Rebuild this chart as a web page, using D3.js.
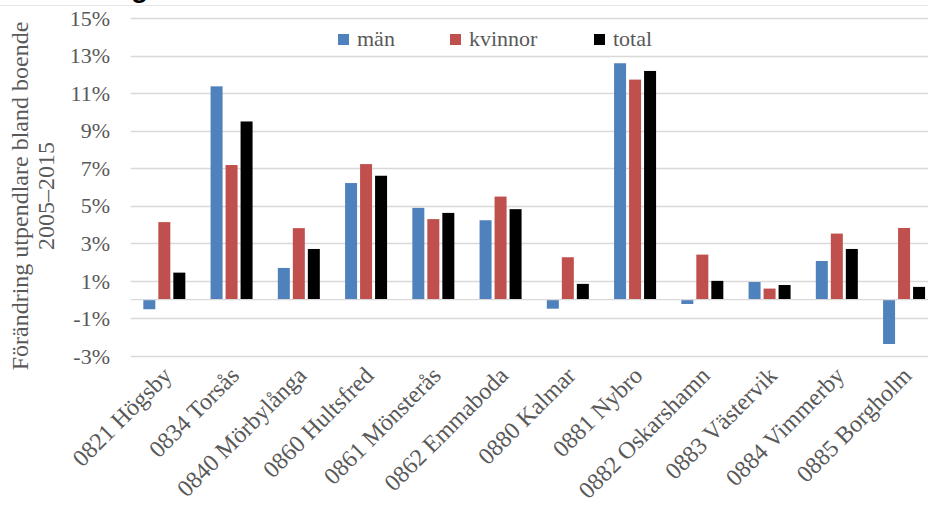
<!DOCTYPE html>
<html>
<head>
<meta charset="utf-8">
<script src="https://cdn.jsdelivr.net/npm/d3@7"></script>
<style>
  html, body { margin: 0; padding: 0; background: #fff; }
  svg { display: block; }
</style>
</head>
<body>
<svg id="chart" width="928" height="505"></svg>
<script>
const categories = ["0821 Högsby", "0834 Torsås", "0840 Mörbylånga", "0860 Hultsfred", "0861 Mönsterås", "0862 Emmaboda", "0880 Kalmar", "0881 Nybro", "0882 Oskarshamn", "0883 Västervik", "0884 Vimmerby", "0885 Borgholm"];
const seriesNames = ["män", "kvinnor", "total"];
const man     = [-0.51, 11.36, 1.69, 6.21, 4.89, 4.23, -0.48, 12.59, -0.23, 0.94, 2.06, -2.36];
const kvinnor = [4.13, 7.17, 3.81, 7.22, 4.29, 5.49, 2.26, 11.72, 2.40, 0.59, 3.52, 3.82];
const total   = [1.44, 9.49, 2.70, 6.60, 4.62, 4.82, 0.84, 12.18, 1.00, 0.78, 2.70, 0.68];
const yTicks = [-3, -1, 1, 3, 5, 7, 9, 11, 13, 15];
const colors = ["#4F81BD", "#C0504D", "#000000"];
const yTitle = ["Förändring utpendlare bland boende", "2005–2015"];

const values = [man, kvinnor, total];
const svg = d3.select("#chart");
const font = "'Liberation Serif', 'Times New Roman', serif";
const textColor = "#595959";
const gridColor = "#D9D9D9";

// top border line and cut-off title fragment
svg.append("line").attr("x1", 0).attr("x2", 928).attr("y1", 5.5).attr("y2", 5.5)
  .attr("stroke", "#E8E8E8").attr("stroke-width", 1);
svg.append("text").attr("x", 131).attr("y", -3).text("g")
  .attr("font-family", "'Liberation Sans', Arial, sans-serif").attr("font-weight", "bold")
  .attr("font-size", 28).attr("fill", "#000");

const plotLeft = 130.7, plotRight = 937.7;
const y = d3.scaleLinear().domain([-3, 15]).range([356, 18]);
const x0 = d3.scaleBand().domain(categories).range([plotLeft, plotRight]).padding(0);
const x1 = d3.scaleBand().domain(seriesNames).range([0, 42]).paddingInner(0.2).paddingOuter(0);

// gridlines
svg.append("g").selectAll("line").data(yTicks).join("line")
  .attr("x1", plotLeft).attr("x2", 928)
  .attr("y1", d => Math.round(y(d)) + 0.5).attr("y2", d => Math.round(y(d)) + 0.5)
  .attr("stroke", gridColor).attr("stroke-width", 1.3);

// y tick labels
svg.append("g").selectAll("text").data(yTicks).join("text")
  .attr("x", 110).attr("y", d => y(d)).attr("dy", "0.35em")
  .attr("text-anchor", "end")
  .attr("font-family", font).attr("font-size", 22).attr("fill", textColor)
  .text(d => d + "%");

// bars
const groups = svg.append("g").selectAll("g").data(categories).join("g")
  .attr("transform", c => `translate(${x0(c) + x0.bandwidth() / 2 - 21},0)`);
groups.selectAll("rect").data((c, i) => seriesNames.map((s, j) => ({ s, j, v: values[j][i] })))
  .join("rect")
  .attr("x", d => x1(d.s))
  .attr("width", x1.bandwidth())
  .attr("y", d => y(Math.max(0, d.v)))
  .attr("height", d => Math.abs(y(d.v) - y(0)))
  .attr("fill", d => colors[d.j]);

// zero axis line
svg.append("line").attr("x1", plotLeft).attr("x2", 928)
  .attr("y1", y(0)).attr("y2", y(0))
  .attr("stroke", gridColor).attr("stroke-width", 1.3);

// x labels
svg.append("g").selectAll("text").data(categories).join("text")
  .attr("transform", c => `translate(${x0(c) + x0.bandwidth() / 2 + 9},${377}) rotate(-45)`)
  .attr("text-anchor", "end")
  .attr("font-family", font).attr("font-size", 24).attr("fill", textColor)
  .text(c => c);

// y axis title
const yt = svg.append("text")
  .attr("transform", `translate(28,196) rotate(-90)`)
  .attr("text-anchor", "middle")
  .attr("font-family", font).attr("font-size", 24).attr("fill", textColor);
yt.selectAll("tspan").data(yTitle).join("tspan")
  .attr("x", 0).attr("dy", (d, i) => i === 0 ? 0 : 26)
  .text(d => d);

// legend
const legendX = [338, 450, 594];
const leg = svg.append("g").selectAll("g").data(seriesNames).join("g")
  .attr("transform", (d, i) => `translate(${legendX[i]},0)`);
leg.append("rect").attr("x", 0).attr("y", 34).attr("width", 11).attr("height", 11)
  .attr("fill", (d, i) => colors[i]);
leg.append("text").attr("x", 19).attr("y", 46)
  .attr("font-family", font).attr("font-size", 22).attr("fill", textColor)
  .text(d => d);
</script>
</body>
</html>
